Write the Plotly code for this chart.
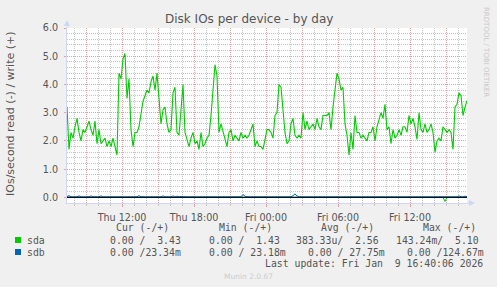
import pandas as pd
import plotly.graph_objects as go

# ---------------- data ----------------
axis_start = "2026-01-08 07:25"
axis_end = "2026-01-09 16:45"
sample_step = "10min"

# sda writes (IOs/s), one value every 10 minutes
sda_write = [
    3.2, 1.7, 2.3, 2.1, 2.5, 2.8, 2.3, 2.0, 2.4, 2.3, 2.5, 2.7, 2.4, 2.2, 2.7, 1.9, 2.4, 1.9, 2.0, 2.1,
    1.8, 2.0, 1.8, 2.1, 1.8, 1.5, 4.4, 4.2, 4.9, 5.1, 3.5, 4.2, 2.4, 1.8, 2.3,
    2.3, 2.5, 2.9, 3.4, 3.6, 3.8, 3.7, 4.1, 4.3, 3.8, 4.4, 3.4, 2.6, 3.1, 3.2, 2.6, 2.3, 2.4, 3.7, 3.9,
    2.3, 2.2, 3.2, 4.0, 2.3, 2.0, 1.8, 2.1, 2.3, 1.9, 2.0, 1.7, 2.3, 1.8, 1.9,
    2.1, 2.2, 2.9, 3.8, 4.7, 4.3, 2.3, 2.6, 2.3, 2.0, 1.8, 2.3, 2.4, 2.0, 2.2, 2.1, 2.0, 2.3, 2.1, 2.2,
    2.1, 2.2, 2.4, 2.6, 1.8, 2.0, 1.8, 1.8, 1.7, 2.0, 2.4, 2.4, 2.3, 2.1, 2.9,
    3.0, 4.0, 3.9, 3.1, 2.3, 1.9, 2.0, 2.6, 2.8, 2.2, 2.1, 2.2, 2.1, 3.0, 2.4, 2.7, 2.4, 2.5, 2.6, 2.4,
    2.8, 2.5, 2.4, 2.9, 2.9, 2.9, 3.0, 2.4, 3.2, 3.8, 4.4, 4.2, 3.8, 3.9, 2.6,
    2.2, 1.5, 2.3, 1.7, 2.9, 2.3, 2.3, 2.1, 2.2, 2.1, 2.0, 2.3, 2.3, 2.5, 2.0, 2.5, 2.8, 3.0, 2.8, 3.3,
    2.4, 2.5, 1.9, 2.4, 2.1, 2.2, 2.4, 2.2, 2.5, 2.5, 2.3, 2.9, 2.6, 2.8, 2.5,
    2.05, 3.0, 2.4, 2.3, 2.6, 2.3, 2.4, 2.6, 2.3, 1.6, 2.0, 2.1, 2.0, 2.5, 2.4, 2.3, 2.4, 2.3, 1.7, 3.2,
    3.3, 3.7, 3.6, 2.9, 3.2, 3.43,
]

# sda reads: zero except these samples (index -> IOs/s)
sda_read_nonzero = {100: 0.0107, 189: 0.1432}

# sdb writes (IOs/s)
sdb_write = [
    0.03, 0.06, 0.02, 0.02, 0.02, 0.02, 0.05, 0.02, 0.02, 0.02, 0.02, 0.02, 0.05, 0.02, 0.02, 0.02, 0.02, 0.05, 0.02, 0.02,
    0.02, 0.02, 0.03, 0.02, 0.02, 0.02, 0.02, 0.02, 0.02, 0.02, 0.02, 0.02, 0.02, 0.02, 0.02, 0.02, 0.06, 0.02, 0.02, 0.02,
    0.02, 0.02, 0.02, 0.02, 0.02, 0.02, 0.02, 0.02, 0.05, 0.02, 0.02, 0.02, 0.02, 0.05, 0.02, 0.04, 0.02, 0.03, 0.02, 0.02,
    0.02, 0.02, 0.02, 0.02, 0.02, 0.02, 0.03, 0.02, 0.02, 0.02, 0.02, 0.02, 0.02, 0.04, 0.02, 0.02, 0.02, 0.02, 0.02, 0.02,
    0.02, 0.02, 0.02, 0.02, 0.02, 0.02, 0.02, 0.02, 0.10, 0.04, 0.02, 0.02, 0.02, 0.02, 0.02, 0.02, 0.02, 0.02, 0.02, 0.02,
    0.02, 0.02, 0.02, 0.02, 0.02, 0.02, 0.02, 0.02, 0.02, 0.02, 0.02, 0.04, 0.02, 0.06, 0.12, 0.05, 0.02, 0.02, 0.02, 0.02,
    0.02, 0.04, 0.03, 0.04, 0.03, 0.02, 0.02, 0.02, 0.03, 0.02, 0.02, 0.02, 0.02, 0.02, 0.02, 0.03, 0.02, 0.02, 0.02, 0.02,
    0.02, 0.02, 0.02, 0.02, 0.02, 0.02, 0.02, 0.02, 0.02, 0.02, 0.02, 0.02, 0.02, 0.02, 0.02, 0.02, 0.02, 0.02, 0.03, 0.02,
    0.02, 0.02, 0.02, 0.02, 0.02, 0.02, 0.02, 0.02, 0.02, 0.02, 0.02, 0.02, 0.02, 0.02, 0.02, 0.02, 0.02, 0.02, 0.02, 0.02,
    0.02, 0.02, 0.02, 0.02, 0.02, 0.02, 0.02, 0.02, 0.02, 0.02, 0.02, 0.02, 0.03, 0.02, 0.02, 0.02, 0.05, 0.02, 0.02, 0.04, 0.023,
]

x_major_times = ["2026-01-08 09:00", "2026-01-08 12:00", "2026-01-08 15:00", "2026-01-08 18:00",
                 "2026-01-08 21:00", "2026-01-09 00:00", "2026-01-09 03:00", "2026-01-09 06:00",
                 "2026-01-09 09:00", "2026-01-09 12:00", "2026-01-09 15:00"]
x_major_labels = ["", "Thu 12:00", "", "Thu 18:00", "", "Fri 00:00", "", "Fri 06:00", "", "Fri 12:00", ""]
y_ticks = [0, 1, 2, 3, 4, 5, 6]

series_names = ["sda", "sdb"]
series_colors = ["#00cc00", "#0066b3"]
legend_headers = ["Cur (-/+)", "Min (-/+)", "Avg (-/+)", "Max (-/+)"]
sda_stats = ["0.00 /  3.43", "0.00 /  1.43", "383.33u/  2.56", "143.24m/  5.10"]
sdb_stats = ["0.00 /23.34m", "0.00 / 23.18m", "0.00 / 27.75m", "0.00 /124.67m"]
last_update = "Last update: Fri Jan  9 16:40:06 2026"

# ---------------- figure ----------------
W, H = 497, 287
L, R, T, B = 67, 467, 28, 203

times = pd.date_range(axis_start, periods=len(sda_write), freq=sample_step)
sda_read = [-sda_read_nonzero.get(i, 0.0) for i in range(len(sda_write))]
sdb_read = [0.0 for _ in range(len(sdb_write))]


def px(x):
    return (x - L) / (R - L)


def py(y):
    return (B - y) / (B - T)


fig = go.Figure()
fig.add_trace(go.Scatter(x=times, y=sda_read, mode="lines", line=dict(color=series_colors[0], width=1),
                         showlegend=False, hoverinfo="skip"))
fig.add_trace(go.Scatter(x=times, y=sda_write, mode="lines", line=dict(color=series_colors[0], width=1.1),
                         showlegend=False, hoverinfo="skip"))
fig.add_trace(go.Scatter(x=times, y=sdb_read, mode="lines", line=dict(color=series_colors[1], width=1),
                         showlegend=False, hoverinfo="skip"))
fig.add_trace(go.Scatter(x=times, y=sdb_write, mode="lines", line=dict(color=series_colors[1], width=1),
                         showlegend=False, hoverinfo="skip"))

txt = "#555555"
major_grid = "#e8a0a0"
minor_grid = "#c4c4c4"
axis_col = "#cfd6f8"
dots = "1px,1px"

hourly = pd.date_range("2026-01-08 08:00", "2026-01-09 16:00", freq="1h")

fig.update_xaxes(
    type="date", range=[axis_start, axis_end],
    tickmode="array", tickvals=x_major_times, ticktext=x_major_labels,
    showgrid=True, gridcolor=major_grid, griddash=dots, gridwidth=1,
    ticks="outside", ticklen=3, tickcolor=major_grid,
    minor=dict(tickmode="array", tickvals=list(hourly), showgrid=True, gridcolor=minor_grid,
               griddash=dots, gridwidth=1, ticks="outside", ticklen=2, tickcolor=minor_grid),
    showline=True, linecolor=axis_col, linewidth=1,
    tickfont=dict(family="DejaVu Sans", size=9.6, color=txt),
    ticklabelstandoff=2, zeroline=False, fixedrange=True,
)
fig.update_yaxes(
    range=[-0.2, 6.0], tickmode="array", tickvals=y_ticks, tickformat=".1f",
    showgrid=True, gridcolor=major_grid, griddash=dots, gridwidth=1,
    ticks="outside", ticklen=2, tickcolor=major_grid,
    minor=dict(dtick=0.2, tick0=0, showgrid=True, gridcolor=minor_grid, griddash=dots, gridwidth=1),
    showline=True, linecolor=axis_col, linewidth=1,
    tickfont=dict(family="DejaVu Sans", size=9.6, color=txt),
    ticklabelstandoff=4, zeroline=False, fixedrange=True,
)

shapes = [
    # zero rule
    dict(type="line", xref="paper", yref="y", x0=0, x1=1, y0=0, y1=0,
         line=dict(color="#000000", width=1), layer="above"),
    # axis extensions + arrows
    dict(type="line", xref="paper", yref="paper", x0=0, x1=0, y0=1, y1=py(22),
         line=dict(color=axis_col, width=1)),
    dict(type="path", xref="paper", yref="paper",
         path=f"M {px(64)} {py(26)} L {px(67)} {py(20)} L {px(70)} {py(26)} Z",
         fillcolor=axis_col, line=dict(color=axis_col, width=0)),
    dict(type="line", xref="paper", yref="paper", x0=1, x1=px(471), y0=0, y1=0,
         line=dict(color=axis_col, width=1)),
    dict(type="path", xref="paper", yref="paper",
         path=f"M {px(469)} {py(200)} L {px(475)} {py(203)} L {px(469)} {py(206)} Z",
         fillcolor=axis_col, line=dict(color=axis_col, width=0)),
]
# legend swatches
for i, c in enumerate(series_colors):
    yc = 240 + 12 * i
    shapes.append(dict(type="rect", xref="paper", yref="paper",
                       x0=px(15), x1=px(21), y0=py(yc - 3), y1=py(yc + 3),
                       fillcolor=c, line=dict(width=0)))

nb = lambda s: s.replace(" ", "\u00a0")
mono = dict(family="DejaVu Sans Mono", size=9.8, color=txt)
ann = []


def add_text(text, x, y, anchor="left", font=mono, angle=0):
    ann.append(dict(text=nb(text), x=px(x), y=py(y), xref="paper", yref="paper",
                    xanchor=anchor, yanchor="middle", showarrow=False, font=font,
                    textangle=angle, borderpad=0, borderwidth=0))


header_centers = [142.5, 245.5, 347.5, 449.5]
for h, cx in zip(legend_headers, header_centers):
    add_text(h, cx, 227, anchor="center")
for i, name in enumerate(series_names):
    add_text(name, 27, 240 + 12 * i)
sda_x = [110, 209, 296, 396]
sdb_x = [110, 209, 308, 407]
for s, x in zip(sda_stats, sda_x):
    add_text(s, x, 240)
for s, x in zip(sdb_stats, sdb_x):
    add_text(s, x, 252)
add_text(last_update, 483, 263.5, anchor="right")
add_text("Munin 2.0.67", 248, 276, anchor="center",
         font=dict(family="DejaVu Sans", size=7.5, color="#cccccc"))
add_text("IOs/second read (-) / write (+)", 10, 114, anchor="center",
         font=dict(family="DejaVu Sans", size=11, color=txt), angle=-90)
add_text("RRDTOOL / TOBI OETIKER", 486, 52, anchor="center",
         font=dict(family="DejaVu Sans", size=7, color="#c8c8c8"), angle=90)
add_text("Disk IOs per device - by day", 248.5, 19, anchor="center",
         font=dict(family="DejaVu Sans", size=12, color=txt))

fig.update_layout(
    width=W, height=H,
    margin=dict(l=L, r=W - R, t=T, b=H - B, pad=0),
    paper_bgcolor="#f0f0f0", plot_bgcolor="#ffffff",
    shapes=shapes, annotations=ann, showlegend=False,
)

fig.write_html("out.html", config={"displayModeBar": False})
